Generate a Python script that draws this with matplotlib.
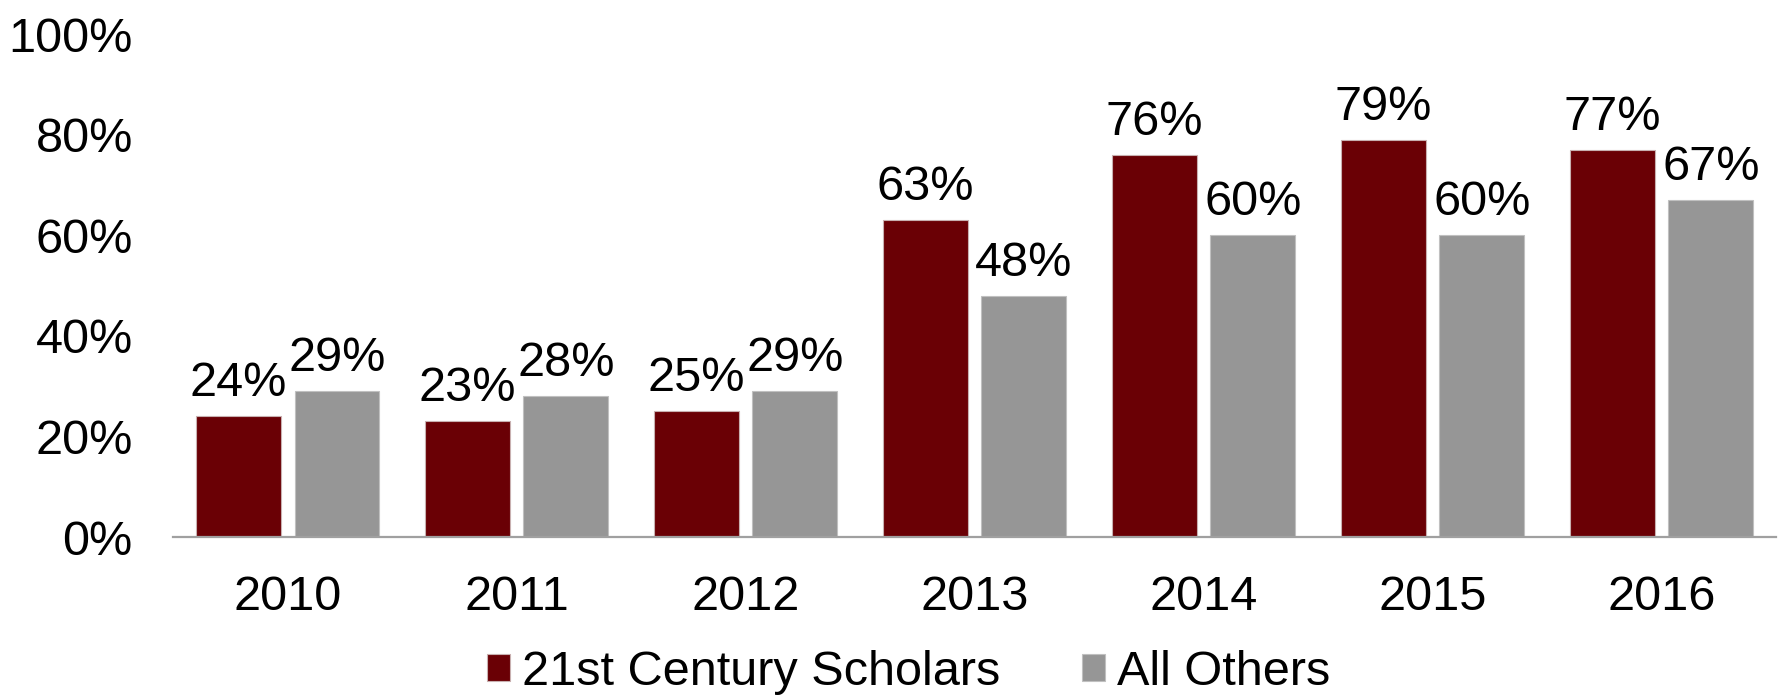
import matplotlib
matplotlib.use("Agg")
import matplotlib.pyplot as plt
import numpy as np

years = ["2010", "2011", "2012", "2013", "2014", "2015", "2016"]
scholars = [24, 23, 25, 63, 76, 79, 77]
others = [29, 28, 29, 48, 60, 60, 67]
yticks = [0, 20, 40, 60, 80, 100]

RED = "#6a0005"
GREY = "#969696"
FS = 35

plt.rcParams["font.family"] = ["Liberation Sans", "DejaVu Sans"]

fig = plt.figure(figsize=(17.85, 6.96), dpi=100)
ax = fig.add_axes([0.097, 0.2284, 0.898, 0.7226])

x = np.arange(len(years))
w = 0.37
off = 0.215
b1 = ax.bar(x - off, scholars, w, color=RED, edgecolor="#c8b0b0", linewidth=0.8,
            label="21st Century Scholars")
b2 = ax.bar(x + off, others, w, color=GREY, edgecolor="#c0c0c0", linewidth=0.8,
            label="All Others")

for bars, vals in ((b1, scholars), (b2, others)):
    for r, v in zip(bars, vals):
        ax.text(r.get_x() + r.get_width() / 2, v + 4.0, f"{v}%", ha="center",
                va="baseline", fontsize=FS)

ax.set_xlim(-0.5, len(years) - 0.5)
ax.set_ylim(0, 100)
ax.set_yticks(yticks)
ax.set_yticklabels([f"{t}%" for t in yticks], fontsize=FS)
ax.set_xticks(x)
ax.set_xticklabels(years, fontsize=FS)
ax.tick_params(axis="both", length=0)
ax.tick_params(axis="x", pad=27)
ax.tick_params(axis="y", pad=29)
for s in ("top", "right", "left"):
    ax.spines[s].set_visible(False)
ax.spines["bottom"].set_color("#a0a0a0")
ax.spines["bottom"].set_linewidth(1.6)

fig.legend(handles=[b1, b2], loc="center", bbox_to_anchor=(0.509, 0.034), ncol=2,
           frameon=False, handlelength=0.47, handleheight=0.47, handletextpad=0.25,
           columnspacing=1.67, borderpad=0, prop={"size": FS})

fig.savefig("out.png", dpi=100)
